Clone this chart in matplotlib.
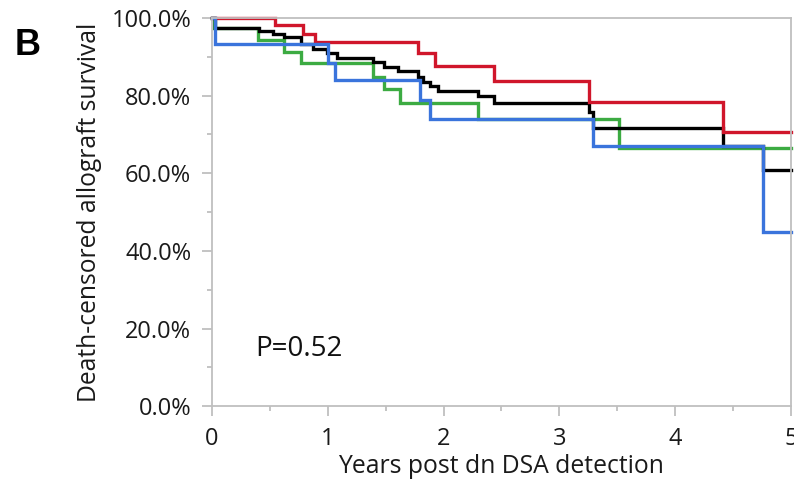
import matplotlib
matplotlib.use("Agg")
import matplotlib.pyplot as plt
from matplotlib.ticker import FixedLocator

plt.rcParams['font.family'] = ['Open Sans', 'DejaVu Sans']

# Kaplan-Meier step data (time in years, survival in %)
red_t = [0, 0.54, 0.79, 0.89, 1.78, 1.93, 2.44, 3.26, 4.41, 5.0]
red_s = [100, 98.2, 96.0, 93.9, 90.9, 87.6, 83.8, 78.4, 70.7, 70.7]

black_t = [0, 0.03, 0.41, 0.53, 0.62, 0.77, 0.87, 0.99, 1.08, 1.39, 1.49, 1.61,
           1.78, 1.82, 1.88, 1.95, 2.30, 2.44, 3.26, 3.29, 4.41, 4.76, 5.0]
black_s = [100, 97.4, 96.6, 95.8, 95.0, 93.4, 91.9, 90.9, 89.6, 88.6, 87.4, 86.3,
           84.9, 83.6, 82.5, 81.2, 79.9, 78.0, 75.9, 71.6, 67.0, 60.8, 60.8]

green_t = [0, 0.02, 0.40, 0.62, 0.77, 1.39, 1.49, 1.62, 2.30, 3.52, 5.0]
green_s = [100, 97.3, 94.3, 91.3, 88.3, 84.9, 81.7, 78.0, 73.9, 66.4, 66.4]

blue_t = [0, 0.03, 1.00, 1.06, 1.80, 1.88, 3.29, 4.76, 5.0]
blue_s = [100, 93.2, 88.5, 84.0, 79.0, 73.9, 67.0, 44.8, 44.8]

x_ticks = [0, 1, 2, 3, 4, 5]
x_minor = [0.5, 1.5, 2.5, 3.5, 4.5]
y_ticks = [0, 20, 40, 60, 80, 100]
y_minor = [10, 30, 50, 70, 90]
y_labels = ['0.0%', '20.0%', '40.0%', '60.0%', '80.0%', '100.0%']

fig = plt.figure(figsize=(7.94, 4.87), dpi=100)
ax = fig.add_axes([0.267, 0.166, 0.729, 0.797])

series = [
    (green_t, green_s, '#3cab42'),
    (black_t, black_s, '#000000'),
    (red_t, red_s, '#d0162b'),
    (blue_t, blue_s, '#3a74dc'),
]
for t, s, c in series:
    ax.step(t, s, where='post', color=c, lw=2.4, clip_on=False, solid_joinstyle='miter')

ax.set_xlim(0, 5)
ax.set_ylim(0, 100)
ax.set_xticks(x_ticks)
ax.xaxis.set_minor_locator(FixedLocator(x_minor))
ax.set_yticks(y_ticks)
ax.yaxis.set_minor_locator(FixedLocator(y_minor))
ax.set_yticklabels(y_labels)

spine_c = '#bfbfbf'
for sp in ax.spines.values():
    sp.set_color(spine_c)
    sp.set_linewidth(1.3)
ax.tick_params(axis='both', which='major', direction='out', color=spine_c, width=1.3,
               length=7, labelsize=17, labelcolor='#1a1a1a', pad=8)
ax.tick_params(axis='both', which='minor', direction='out', color=spine_c, width=1.3,
               length=3.5)

ax.set_xlabel('Years post dn DSA detection', fontsize=17.8, color='#1a1a1a', labelpad=2)
ax.set_ylabel('Death-censored allograft survival', fontsize=17.7, color='#1a1a1a', labelpad=7)

ax.text(0.37, 14.6, 'P=0.52', fontsize=20, color='#111111', va='center', ha='left')
fig.text(0.019, 0.888, 'B', fontsize=26, fontweight='bold', color='#000000',
         family=['Liberation Sans', 'DejaVu Sans'], va='baseline', ha='left')

fig.savefig('out.png', dpi=100)
